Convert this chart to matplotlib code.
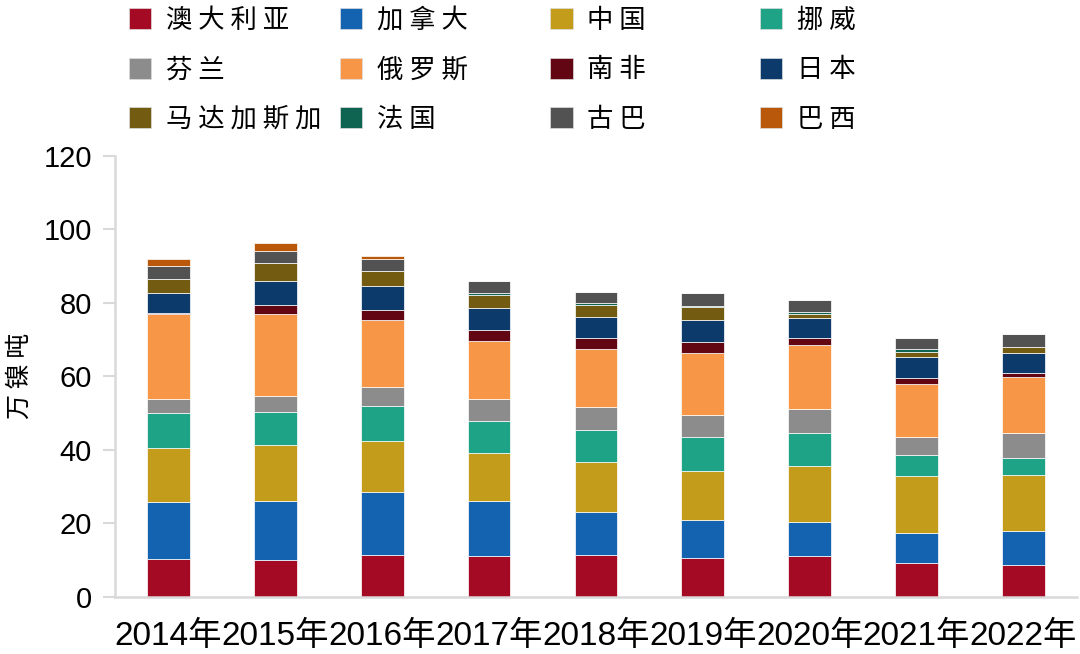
import numpy as np
import matplotlib
matplotlib.use("Agg")
import matplotlib.pyplot as plt
from matplotlib.patches import Patch

plt.rcParams['font.family'] = ['Liberation Sans', 'Noto Sans CJK SC', 'DejaVu Sans']

years = ['2014年', '2015年', '2016年', '2017年', '2018年', '2019年', '2020年', '2021年', '2022年']
countries = ['澳大利亚', '加拿大', '中国', '挪威', '芬兰', '俄罗斯', '南非', '日本',
             '马达加斯加', '法国', '古巴', '巴西']

# 万镍吨
australia  = [10.3, 10.1, 11.4, 11.2, 11.4, 10.7, 11.2, 9.3, 8.8]
canada     = [15.6, 16.1, 17.1, 15.0, 11.6, 10.3, 9.3, 8.1, 9.1]
china      = [14.7, 15.0, 13.8, 12.9, 13.6, 13.3, 15.1, 15.6, 15.3]
norway     = [9.3, 9.0, 9.5, 8.8, 8.9, 9.1, 9.1, 5.6, 4.7]
finland    = [4.0, 4.3, 5.2, 6.0, 6.2, 6.2, 6.4, 4.8, 6.8]
russia     = [23.0, 22.5, 18.4, 15.6, 15.7, 16.8, 17.3, 14.6, 15.1]
s_africa   = [0.3, 2.5, 2.5, 3.0, 3.1, 2.8, 2.1, 1.6, 1.2]
japan      = [5.5, 6.3, 6.5, 6.1, 5.7, 6.1, 5.4, 5.5, 5.4]
madagascar = [3.8, 4.9, 4.3, 3.6, 3.3, 3.4, 1.1, 1.6, 1.6]
france     = [0.0, 0.0, 0.0, 0.4, 0.5, 0.5, 0.6, 0.8, 0.0]
cuba       = [3.4, 3.3, 3.2, 3.2, 3.0, 3.5, 3.0, 3.0, 3.4]
brazil     = [2.0, 2.3, 0.8, 0.0, 0.0, 0.0, 0.0, 0.0, 0.0]

series = [australia, canada, china, norway, finland, russia, s_africa, japan,
          madagascar, france, cuba, brazil]
colors = ['#A50A24', '#1463B0', '#C29C1A', '#1FA386', '#8C8C8C', '#F79646',
          '#620614', '#0B3A6B', '#735C11', '#0E6450', '#525252', '#B9570A']

fig = plt.figure(figsize=[10.8, 6.54], dpi=100)
ax = fig.add_axes([0.1065, 0.0872, 0.8905, 0.675])

x = np.arange(len(years))
bottom = np.zeros(len(years))
for vals, col in zip(series, colors):
  vals = np.array(vals)
  ax.bar(x, vals, 0.4, bottom=bottom, color=col, edgecolor='white', linewidth=0.5)
  bottom += vals

ax.set_xlim(-0.5, len(years) - 0.5)
ax.set_ylim(0, 120)
ax.set_yticks(np.arange(0, 121, 20))
ax.set_xticks(x)
ax.set_xticklabels(years, fontsize=24)
ax.tick_params(axis='y', labelsize=21, length=8.5, width=1.5, color='#D9D9D9', pad=8)
ax.tick_params(axis='x', length=0, pad=17)

for s in ['top', 'right']:
  ax.spines[s].set_visible(False)
for s in ['left', 'bottom']:
  ax.spines[s].set_color('#D9D9D9')
  ax.spines[s].set_linewidth(1.8)

ax.set_ylabel('万 镍 吨', fontsize=18, family=['Noto Sans CJK SC'], labelpad=8)

# legend: 4 equal-width columns, filled row by row
handles = [Patch(facecolor=c, edgecolor='#DDDDDD', linewidth=0.5) for c in colors]
col_x = [0.1195, 0.3145, 0.5095, 0.7035]
for c in range(4):
  h = handles[c::4]
  labs = [' '.join(n) for n in countries[c::4]]
  leg = fig.legend(h, labs, loc='upper left', bbox_to_anchor=(col_x[c], 0.990),
                   frameon=False, ncol=1, prop={'family': 'Noto Sans CJK SC', 'size': 19},
                   handlelength=0.85, handleheight=0.85, handletextpad=0.55,
                   labelspacing=0.86, borderpad=0, borderaxespad=0)

fig.savefig('out.png', dpi=100)
